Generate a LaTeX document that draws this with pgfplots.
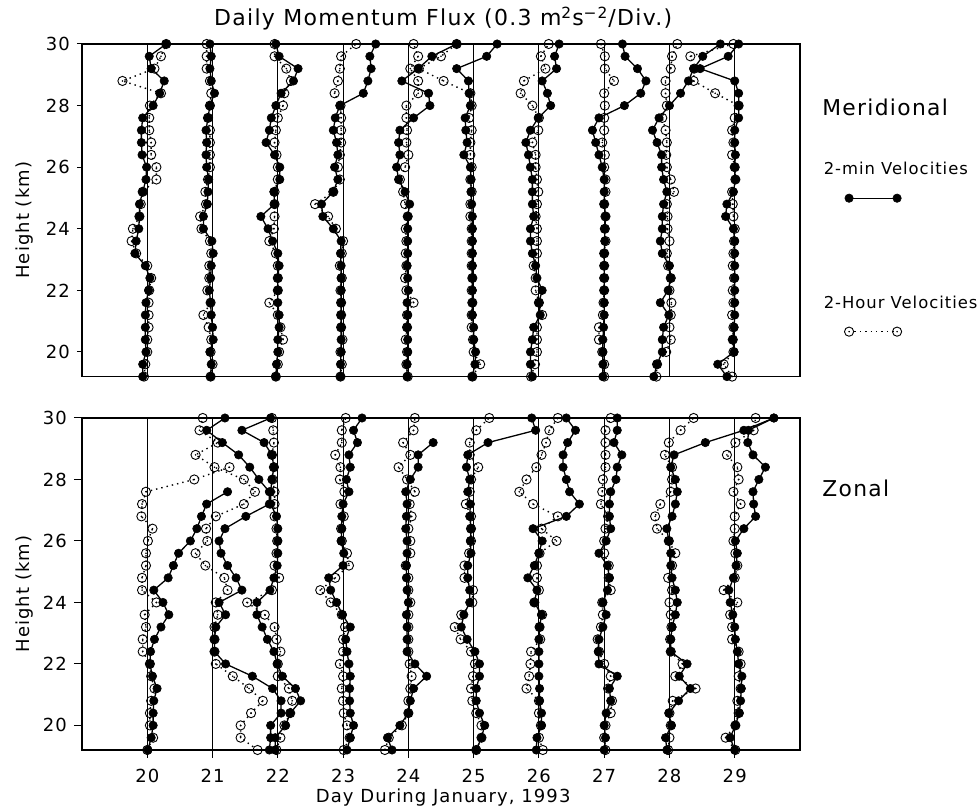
\documentclass[border=0pt]{standalone}
\usepackage{fontspec}
\setmainfont{DejaVu Sans}[LetterSpace=6]
\usepackage{pgfplots}
\usepackage{pgfplotstable}
\pgfplotsset{compat=1.18}

\pgfdeclareplotmark{odot}{%
  \pgfpathcircle{\pgfpointorigin}{\pgfplotmarksize}%
  \pgfusepathqstroke
  \pgfpathcircle{\pgfpointorigin}{0.45pt}%
  \pgfusepathqfill}

\tikzset{
  fil/.style={black, solid, line width=0.65pt, mark=*, mark size=2.1pt, mark options={solid, fill=black, line width=0.3pt}},
  opn/.style={black, dotted, line width=0.7pt, mark=odot, mark size=2.3pt, mark options={solid, line width=0.45pt, fill=black}},
}
\pgfplotsset{
  common/.style={scale only axis, width=359pt, xmin=19, xmax=30, ymin=19.2, ymax=30,
    xtick={20,...,29}, ytick={20,22,...,30}, xmajorgrids, major grid style={black, line width=0.45pt},
    axis line style={line width=0.6pt}, tick align=outside, xtick pos=lower, ytick pos=left,
    major tick length=2.5pt, tick style={black, line width=0.5pt}, clip=false,
    tick label style={font=\fontsize{9}{10}\selectfont},
    /pgf/number format/assume math mode=true,
    ylabel={Height (km)},
    ylabel style={font=\fontsize{9}{10}\selectfont, at={(axis description cs:-0.0794,0.47)}, anchor=center},
  },
}

% heights (km) and offsets from each day line (in divisions of 0.3 m^2 s^-2)
\pgfplotstableread{
h f20 f21 f22 f23 f24 f25 f26 f27 f28 f29
19.2 -0.07 -0.03 -0.03 -0.04 -0.02 -0.02 -0.10 -0.02 -0.24 -0.12
19.6 -0.07 -0.02 -0.02 -0.04 -0.02 0.02 -0.13 -0.02 -0.19 -0.26
20.0 -0.02 -0.04 0.00 -0.03 -0.01 0.03 -0.13 -0.02 -0.11 -0.01
20.4 -0.03 0.01 0.00 -0.03 -0.01 0.00 -0.10 -0.02 -0.11 -0.03
20.8 -0.03 0.00 0.02 -0.03 -0.02 0.00 -0.08 -0.01 -0.09 -0.01
21.2 -0.03 -0.02 0.02 -0.03 -0.01 -0.02 0.02 0.00 -0.01 0.00
21.6 -0.02 -0.03 0.00 -0.03 -0.02 -0.02 0.00 0.00 -0.14 0.00
22.0 0.02 -0.05 0.00 -0.03 0.00 -0.02 0.05 0.00 -0.02 0.00
22.4 0.04 -0.03 0.00 -0.03 -0.01 -0.02 -0.03 0.00 0.02 0.00
22.8 -0.03 -0.02 0.02 -0.03 -0.02 -0.02 -0.05 0.00 0.00 0.00
23.2 -0.19 0.01 0.00 -0.04 -0.01 -0.02 -0.10 0.00 -0.11 0.00
23.6 -0.17 -0.01 -0.08 -0.03 -0.01 -0.02 -0.13 0.01 -0.14 0.00
24.0 -0.13 -0.14 -0.15 -0.15 -0.01 -0.02 -0.13 0.01 -0.11 -0.02
24.4 -0.12 -0.14 -0.26 -0.31 -0.01 -0.02 -0.08 0.02 -0.11 -0.14
24.8 -0.12 -0.08 -0.05 -0.33 0.02 -0.03 -0.10 0.00 -0.09 -0.12
25.2 -0.07 -0.07 -0.06 -0.15 -0.05 -0.04 -0.10 0.00 -0.04 -0.02
25.6 -0.02 -0.06 0.03 -0.08 -0.15 -0.04 -0.10 0.00 -0.09 0.01
26.0 -0.01 -0.09 0.03 -0.13 -0.18 -0.05 -0.13 -0.03 -0.12 0.00
26.4 -0.08 -0.10 -0.05 -0.08 -0.13 -0.15 -0.16 -0.08 -0.12 0.01
26.8 -0.09 -0.09 -0.18 -0.10 -0.15 -0.10 -0.20 -0.13 -0.19 0.00
27.2 -0.09 -0.10 -0.13 -0.15 -0.13 -0.12 -0.13 -0.18 -0.26 0.00
27.6 -0.07 -0.07 -0.10 -0.12 0.08 -0.13 -0.01 -0.08 -0.16 0.06
28.0 0.09 -0.04 -0.03 -0.05 0.33 -0.05 0.18 0.31 0.00 0.06
28.4 0.19 0.03 0.05 0.31 0.31 -0.07 0.13 0.56 0.17 0.06
28.8 0.26 -0.02 0.24 0.38 -0.10 -0.08 0.05 0.64 0.29 0.00
29.2 0.06 -0.04 0.31 0.43 0.15 -0.26 0.27 0.51 0.37 -0.53
29.6 0.03 -0.02 0.02 0.41 0.36 0.20 0.24 0.32 0.51 -0.10
30.0 0.29 -0.04 -0.03 0.50 0.74 0.36 0.31 0.28 0.78 0.06
}\TF

\pgfplotstableread{
h f20 f21 f22 f23 f24 f25 f26 f27 f28 f29
19.2 -0.05 -0.03 -0.03 -0.04 -0.01 -0.02 -0.12 0.00 -0.20 -0.04
19.6 -0.03 0.00 0.00 -0.02 -0.03 0.10 -0.06 0.00 -0.19 -0.17
20.0 0.00 -0.03 0.02 -0.04 -0.02 0.00 -0.03 -0.03 -0.05 -0.02
20.4 0.00 -0.02 0.08 -0.01 -0.04 -0.01 -0.03 -0.08 0.02 -0.03
20.8 0.02 -0.06 0.04 -0.03 -0.02 -0.03 -0.03 -0.08 0.00 -0.02
21.2 0.02 -0.14 0.00 -0.03 -0.02 -0.03 0.05 -0.02 0.02 -0.04
21.6 0.02 -0.03 -0.13 -0.03 0.08 -0.02 0.00 -0.01 0.03 -0.02
22.0 0.03 -0.08 0.00 -0.04 -0.03 -0.03 -0.05 0.00 0.00 -0.03
22.4 0.06 -0.05 0.00 -0.02 -0.05 -0.02 -0.05 0.00 0.02 -0.01
22.8 0.00 -0.05 0.00 -0.05 -0.03 -0.03 -0.08 0.00 -0.02 -0.03
23.2 -0.17 -0.02 -0.03 -0.02 -0.04 -0.03 -0.03 0.00 -0.04 -0.02
23.6 -0.24 -0.04 -0.13 0.00 -0.03 -0.03 -0.03 0.02 0.00 -0.01
24.0 -0.22 -0.17 -0.06 -0.11 -0.04 -0.03 -0.03 0.01 -0.03 0.00
24.4 -0.12 -0.19 -0.05 -0.23 -0.01 -0.05 -0.05 0.02 -0.03 -0.02
24.8 -0.10 -0.10 -0.05 -0.43 -0.05 -0.05 -0.03 0.00 -0.04 -0.03
25.2 -0.07 -0.11 -0.05 -0.15 -0.08 -0.03 -0.01 0.02 0.07 -0.04
25.6 0.14 -0.07 0.00 -0.05 -0.13 -0.05 -0.03 0.02 0.02 0.01
26.0 0.14 -0.04 0.00 -0.08 -0.05 -0.03 -0.05 0.00 -0.04 0.00
26.4 0.06 -0.04 -0.02 -0.05 0.00 -0.05 -0.05 0.01 -0.05 -0.04
26.8 0.06 -0.04 -0.05 -0.03 -0.03 -0.05 -0.10 -0.03 -0.04 -0.02
27.2 0.03 -0.04 -0.03 -0.03 -0.02 -0.03 -0.01 0.00 -0.06 -0.04
27.6 0.03 -0.07 0.00 -0.03 -0.03 -0.07 0.00 0.00 -0.11 0.00
28.0 0.04 -0.04 0.08 -0.04 -0.03 -0.03 -0.10 0.01 -0.04 0.06
28.4 0.21 -0.02 0.10 -0.13 0.15 -0.05 -0.28 0.00 -0.06 -0.30
28.8 -0.38 -0.04 0.20 -0.08 0.15 -0.46 -0.23 0.15 -0.06 -0.63
29.2 0.11 -0.09 0.13 -0.05 0.03 -0.84 0.10 0.01 0.02 -0.62
29.6 0.21 -0.09 -0.05 -0.03 0.15 -0.50 0.03 0.01 0.04 -0.68
30.0 0.29 -0.09 -0.05 0.20 0.08 -0.26 0.15 -0.05 0.12 -0.02
}\TO

\pgfplotstableread{
h f20 f21 f22 f23 f24 f25 f26 f27 f28 f29
19.2 0.01 0.87 -0.04 0.06 -0.25 0.04 -0.04 0.00 -0.04 0.00
19.6 0.06 0.89 -0.04 0.11 -0.32 0.12 -0.03 0.02 -0.06 -0.07
20.0 0.09 0.89 0.12 0.16 -0.13 0.17 0.04 0.00 0.03 0.01
20.4 0.09 1.05 0.19 0.11 0.00 0.09 0.04 0.03 -0.01 0.07
20.8 0.10 1.05 0.35 0.10 0.03 0.04 0.01 0.10 0.14 0.09
21.2 0.15 0.92 0.27 0.10 0.08 0.04 0.01 0.08 0.32 0.10
21.6 0.08 0.61 0.07 0.11 0.28 0.09 0.00 0.20 0.15 0.11
22.0 0.04 0.20 -0.01 0.09 0.10 0.09 0.00 -0.08 0.27 0.06
22.4 0.05 0.03 -0.06 0.06 -0.02 0.02 0.00 -0.09 0.02 0.04
22.8 0.11 0.03 -0.16 0.04 -0.02 -0.10 0.00 -0.08 0.02 0.01
23.2 0.21 0.05 -0.24 0.11 -0.02 -0.19 0.01 -0.02 0.04 0.00
23.6 0.33 0.20 -0.32 -0.01 -0.03 -0.15 0.04 0.03 0.09 -0.03
24.0 0.24 0.10 -0.32 -0.10 0.00 -0.06 -0.07 -0.02 0.12 -0.07
24.4 0.10 0.45 -0.12 -0.19 -0.02 -0.06 -0.03 0.05 0.09 -0.09
24.8 0.32 0.36 -0.06 -0.22 -0.03 -0.09 -0.17 0.08 0.04 -0.02
25.2 0.40 0.23 -0.01 0.00 -0.03 -0.09 -0.07 0.05 0.02 0.02
25.6 0.48 0.13 0.00 0.01 -0.02 -0.04 0.00 -0.08 0.02 0.04
26.0 0.66 0.10 0.00 -0.03 -0.02 -0.05 0.05 0.03 -0.01 0.01
26.4 0.76 0.19 0.00 -0.02 -0.04 -0.04 -0.09 0.10 -0.04 0.14
26.8 0.83 0.51 -0.02 -0.02 -0.03 -0.06 0.42 0.08 0.04 0.32
27.2 0.91 0.87 -0.11 0.00 -0.02 -0.05 0.62 0.08 0.09 0.29
27.6 1.23 0.87 -0.11 0.09 -0.04 -0.09 0.47 0.10 0.12 0.28
28.0 0 0.71 -0.09 0.05 0.03 -0.06 0.42 0.18 0.09 0.37
28.4 0 0.57 -0.06 0.11 0.15 -0.11 0.37 0.20 0.02 0.47
28.8 0 0.40 -0.09 0.09 0.15 -0.09 0.37 0.27 0.07 0.28
29.2 0 0.15 -0.21 0.22 0.38 0.22 0.44 0.15 0.55 0.20
29.6 0 -0.09 -0.55 0.16 0 0.95 0.56 0.20 1.14 0.21
30.0 0 0.19 -0.11 0.29 0 0.89 0.42 0.20 1.60 0.60
}\BF

\pgfplotstableread{
h f20 f21 f22 f23 f24 f25 f26 f27 f28 f29
19.2 0.00 0.69 -0.02 0.01 -0.36 0.04 0.06 0.02 -0.02 0.01
19.6 0.09 0.43 0.04 0.10 -0.30 0.12 0.00 0.00 0.00 -0.14
20.0 0.04 0.43 0.10 0.06 -0.10 0.12 0.03 0.02 0.02 0.01
20.4 0.04 0.59 0.19 0.01 0.00 0.04 0.00 0.10 0.00 0.06
20.8 0.06 0.77 0.22 0.00 0.00 -0.02 0.00 0.12 0.05 0.04
21.2 0.11 0.56 0.17 -0.02 0.03 -0.04 -0.19 0.06 0.40 0.09
21.6 0.06 0.31 0.00 0.00 0.05 -0.01 -0.15 0.10 0.09 0.06
22.0 0.04 0.05 0.00 -0.05 0.02 0.02 -0.13 0.00 0.20 0.09
22.4 -0.07 0.03 0.04 0.00 0.00 -0.04 -0.12 -0.08 0.02 0.06
22.8 -0.07 0.03 -0.02 0.00 0.00 -0.20 0.02 -0.10 0.01 -0.04
23.2 -0.02 0.03 -0.05 0.03 0.00 -0.29 0.01 -0.05 0.03 -0.04
23.6 -0.04 0.08 -0.20 -0.02 0.00 -0.19 0.05 -0.02 0.02 -0.07
24.0 0.14 0.05 -0.47 -0.19 0.03 -0.02 -0.07 -0.03 0.00 0.04
24.4 -0.08 0.23 -0.09 -0.35 0.00 -0.01 0.00 0.10 0.04 -0.17
24.8 -0.08 0.18 0.02 -0.12 0.00 -0.14 -0.03 0.07 -0.02 0.00
25.2 -0.02 -0.11 -0.05 0.09 -0.04 -0.14 -0.03 0.07 0.04 0.04
25.6 -0.02 -0.26 -0.02 0.06 0.03 -0.07 0.01 0.00 0.09 0.01
26.0 0.01 -0.08 -0.01 -0.02 0.03 -0.04 0.27 0.00 -0.01 -0.02
26.4 0.08 -0.10 -0.02 -0.03 0.00 -0.04 0.04 0.02 -0.19 0.00
26.8 -0.09 0.05 -0.05 0.01 0.05 -0.04 0.29 0.06 -0.22 0.00
27.2 -0.08 0.48 -0.05 -0.04 0.02 -0.12 -0.09 -0.05 -0.14 0.09
27.6 -0.02 0.65 -0.05 0.02 0.10 -0.06 -0.30 -0.03 0.02 -0.02
28.0 0.72 0.48 -0.08 -0.05 -0.02 -0.04 -0.19 -0.02 0.04 0.06
28.4 1.26 0.03 -0.06 -0.04 -0.15 0.07 -0.04 0.02 0.04 0.04
28.8 0 -0.26 -0.09 -0.12 0.03 -0.06 0.04 0.02 -0.07 -0.12
29.2 0 0.08 -0.06 -0.02 -0.08 -0.06 0.11 0.02 -0.01 0.01
29.6 0 -0.20 -0.07 -0.02 0.08 0.04 0.16 0.02 0.17 0.29
30.0 0 -0.15 -0.09 0.04 0.10 0.24 0.29 0.10 0.37 0.32
}\BO

\begin{document}
\begin{tikzpicture}
\useasboundingbox (-41pt,-31pt) rectangle (448.5pt,375pt);

% ---------------- Meridional ----------------
\begin{axis}[common, at={(0pt,186.7pt)}, anchor=south west, height=166.3pt,
  xticklabels={}, xtick style={draw=none},
  title={Daily Momentum Flux (0.3 m\textsuperscript{2}s\textsuperscript{−2}/Div.)},
  title style={at={(0.503,1)}, anchor=base, yshift=3pt, font=\fontsize{11}{13}\selectfont},
  legend style={at={(rel axis cs:1.0306,0.645)}, anchor=north west, draw=none, fill=none,
    inner sep=0pt, row sep=59pt, font=\fontsize{8.2}{9.5}\selectfont, nodes={inner sep=0pt}},
  legend cell align=left,
  legend image code/.code={\path (0pt,0pt); \draw[overlay,#1] plot coordinates {(13pt,-14pt) (37pt,-14pt)};},
]
\pgfplotsinvokeforeach{20,...,29}{
  \addplot[fil, forget plot] table[x expr=\thisrow{f#1}+#1, y=h]{\TF};
}
\pgfplotsinvokeforeach{20,...,29}{
  \addplot[opn, forget plot] table[x expr=\thisrow{f#1}+#1, y=h]{\TO};
}
\addlegendimage{fil}
\addlegendentry{2-min Velocities}
\addlegendimage{opn}
\addlegendentry{2-Hour Velocities}
\node[anchor=west, inner sep=0pt, font=\fontsize{10.9}{13}\selectfont] at (rel axis cs:1.0306,0.808) {Meridional};
\end{axis}

% ---------------- Zonal ----------------
\begin{axis}[common, at={(0pt,0pt)}, anchor=south west, height=166pt,
  major tick length=4pt,
  xticklabel style={yshift=-2pt},
  xlabel={Day During January, 1993},
  xlabel style={font=\fontsize{9}{10}\selectfont, at={(axis description cs:0.503,0)}, anchor=base, yshift=-26.5pt},
]
\addplot[fil, forget plot, skip coords between index={22}{28}] table[x expr=\thisrow{f20}+20, y=h]{\BF};
\addplot[fil, forget plot, skip coords between index={26}{28}] table[x expr=\thisrow{f24}+24, y=h]{\BF};
\pgfplotsinvokeforeach{21,22,23,25,26,27,28,29}{
  \addplot[fil, forget plot] table[x expr=\thisrow{f#1}+#1, y=h]{\BF};
}
\addplot[opn, forget plot, skip coords between index={24}{28}] table[x expr=\thisrow{f20}+20, y=h]{\BO};
\pgfplotsinvokeforeach{21,...,29}{
  \addplot[opn, forget plot] table[x expr=\thisrow{f#1}+#1, y=h]{\BO};
}
\node[anchor=west, inner sep=0pt, font=\fontsize{10.9}{13}\selectfont] at (rel axis cs:1.0306,0.789) {Zonal};
\end{axis}
\end{tikzpicture}
\end{document}
